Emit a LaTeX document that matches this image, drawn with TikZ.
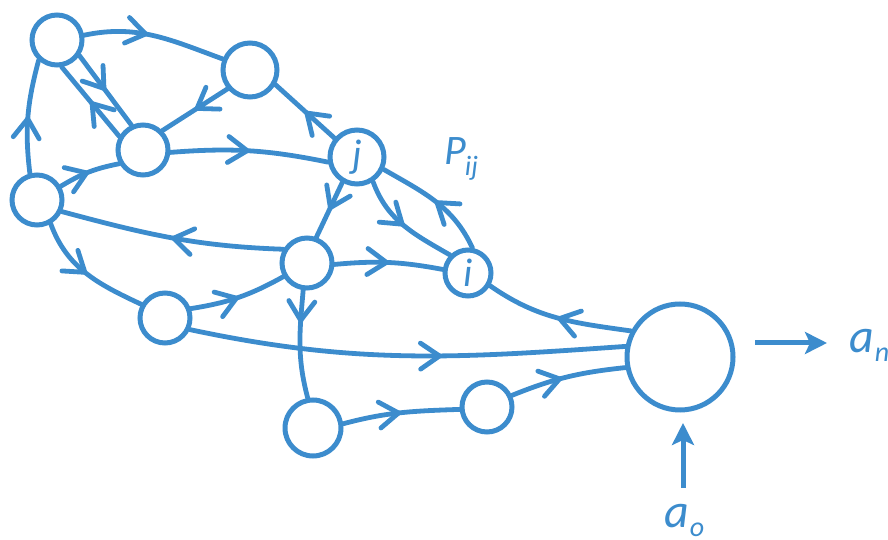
\documentclass[tikz,border=0pt]{standalone}
\usepackage{fontspec}
\setmainfont{Carlito}
\usetikzlibrary{arrows.meta,decorations.markings}
\definecolor{nblue}{RGB}{60,140,205}
\newcommand{\subsz}{\fontsize{28}{30}\selectfont}
\begin{document}
\begin{tikzpicture}[x=1pt,y=1pt,
  lbl/.style={text=nblue,inner sep=0pt,font=\itshape\fontsize{40}{44}\selectfont},
  state/.style={circle,draw=nblue,line width=5pt,fill=white,inner sep=0pt,minimum size=#1,text=nblue,font=\itshape\fontsize{40}{44}\selectfont},
  state/.default=50pt,
  edge/.style={draw=nblue,line width=4.8pt,line cap=round},
  mid/.style={postaction={decorate,decoration={markings,mark=at position #1 with {\arrow[nblue,line width=4.8pt]{Straight Barb[length=19pt,width=26pt,round]}}}}},
  mid/.default=0.5,
  ioarrow/.style={draw=nblue,line width=5pt,-{Stealth[length=22pt,width=22pt,inset=5pt]}}
]
\useasboundingbox (0,0) rectangle (888,540);
% nodes
\node[state=50pt] (A) at (57,500) {};
\node[state=54pt] (B) at (250,470) {};
\node[state=50pt] (C) at (143,390) {};
\node[state=50pt] (D) at (37,340) {};
\node[state=54pt] (J) at (357,383) {j};
\node[state=50pt] (E) at (307,277) {};
\node[state=46pt] (I) at (468,267) {i};
\node[state=50pt] (F) at (165,222) {};
\node[state=106pt] (Big) at (680,183) {};
\node[state=56pt] (G) at (313,112) {};
\node[state=50pt] (H) at (487,133) {};
% edges
\draw[edge,mid=0.45] (A.10) to[out=12,in=160] (B.158);
\draw[edge,mid] (B.220) -- (C.45);
\draw[edge,mid] (A.-35) -- (C.115);
\draw[edge,mid] (C.150) -- (A.-80);
\draw[edge,mid] (D.105) to[out=97,in=255] (A.228);
\draw[edge,mid] (D.30) to[bend left=10] (C.210);
\draw[edge,mid] (C.-5) to[bend left=8] (J.190);
\draw[edge,mid] (J.140) -- (B.-30);
\draw[edge,mid] (J.240) -- (E.70);
\draw[edge,mid] (J.-57) to[out=-70,in=150] (I.135);
\draw[edge,mid] (I.80) to[out=115,in=-30] (J.-25);
\draw[edge,mid] (E.150) to[out=178,in=-15] (D.-25);
\draw[edge,mid] (D.-60) to[out=-70,in=155] (F.150);
\draw[edge,mid] (F.20) to[bend right=10] (E.210);
\draw[edge,mid] (E.-3) to[bend left=8] (I.172);
\draw[edge,mid=0.3] (E.-98) to[out=-95,in=105] (G.100);
\draw[edge,mid=0.58] (F.-25) to[out=-12,in=184] (Big.169);
\draw[edge,mid] (Big.152) to[out=172,in=-35] (I.-30);
\draw[edge,mid] (G.8) to[out=15,in=182] (H.185);
\draw[edge,mid=0.45] (H.25) to[out=22,in=186] (Big.191);
% inputs / outputs
\coordinate (anS) at (755,197);
\coordinate (anE) at (827,197);
\coordinate (aoS) at (683,52);
\coordinate (aoE) at (683,117);
\draw[ioarrow] (anS) -- (anE);
\draw[ioarrow] (aoS) -- (aoE);
\node[lbl,anchor=base west,font=\itshape\fontsize{48}{50}\selectfont] (an) at (849,187) {a\kern1pt\raisebox{-9pt}{\subsz n}};
\node[lbl,anchor=base west,font=\itshape\fontsize{48}{50}\selectfont] (ao) at (664,12) {a\kern1pt\raisebox{-9pt}{\subsz o}};
\node[lbl,anchor=base west,font=\itshape\fontsize{42}{44}\selectfont] (pij) at (444,375) {P\kern-1pt\raisebox{-11pt}{\subsz ij}};
\end{tikzpicture}
\end{document}
